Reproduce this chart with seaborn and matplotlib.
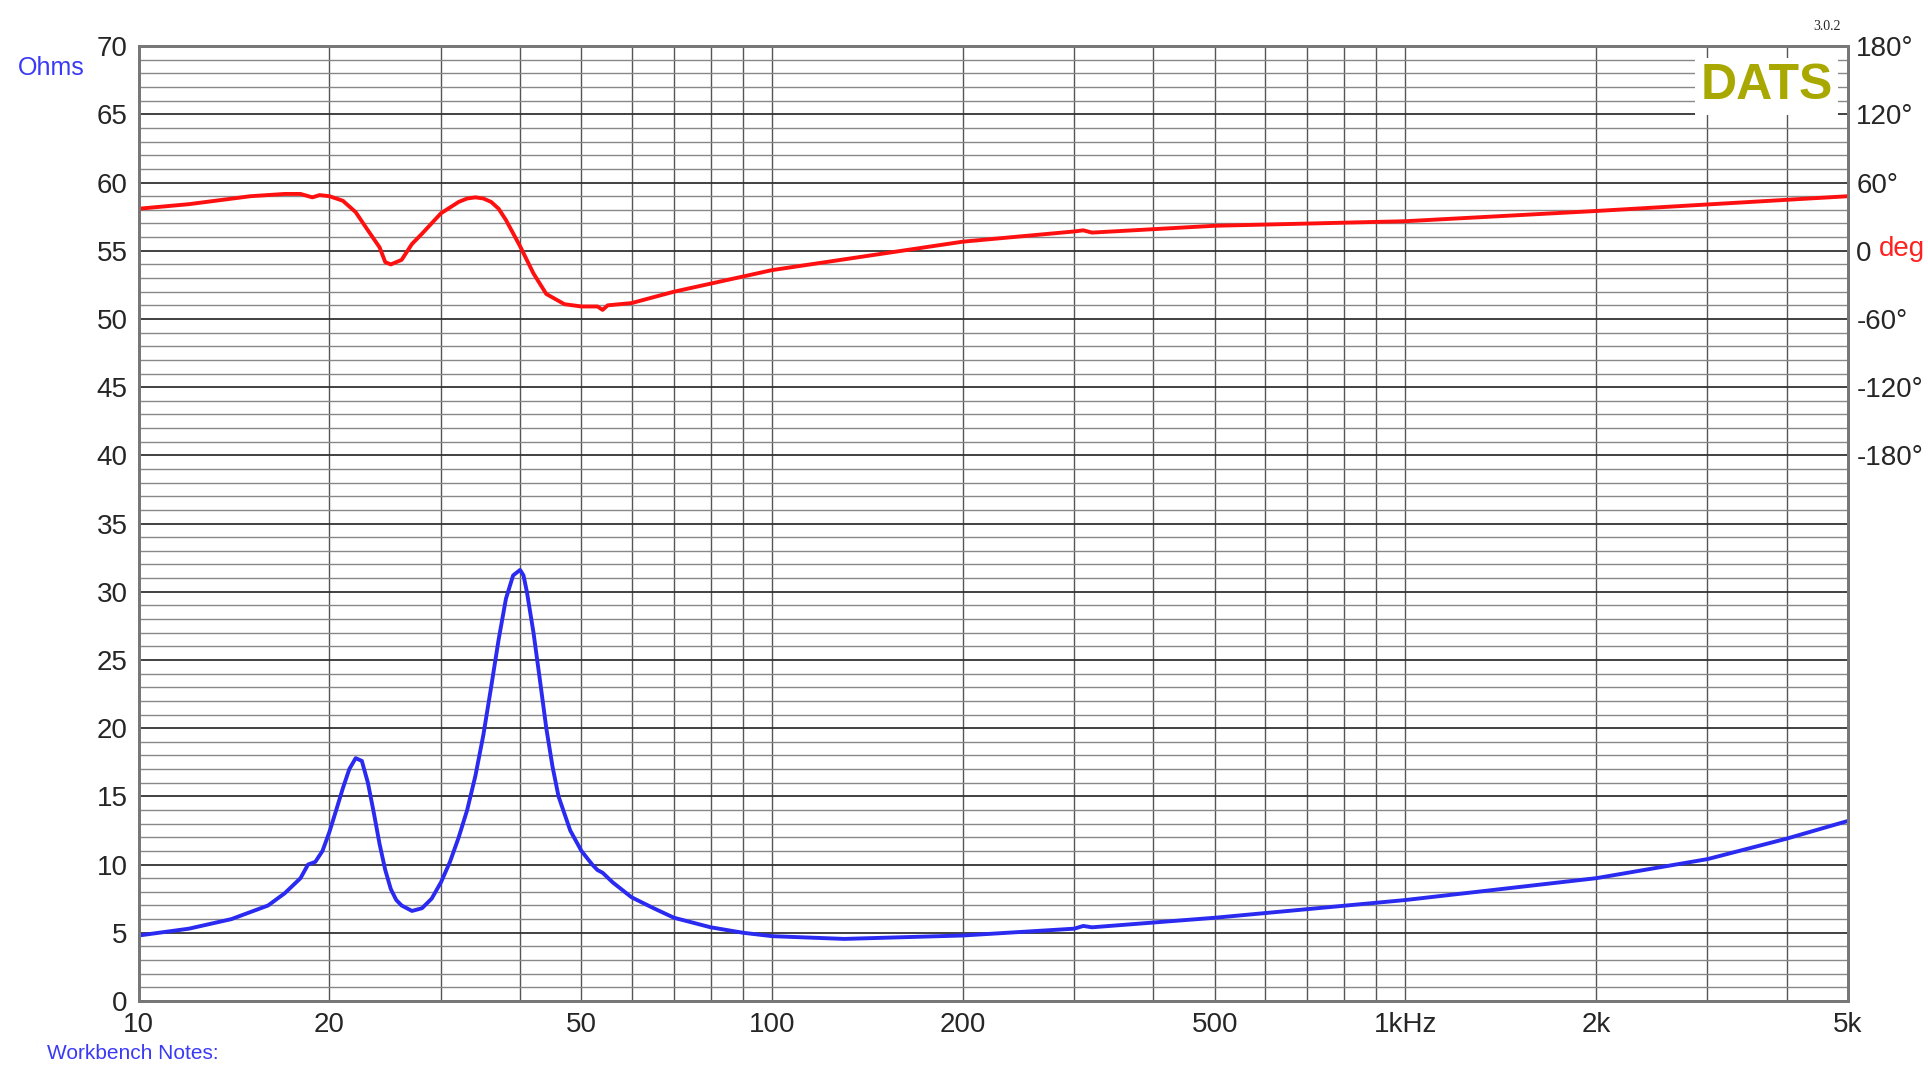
import numpy as np
import pandas as pd
import matplotlib
matplotlib.use("Agg")
import matplotlib.pyplot as plt
import seaborn as sns
from matplotlib.ticker import FixedLocator, NullFormatter

sns.set_style("white")
plt.rcParams['font.family'] = ['Liberation Sans', 'DejaVu Sans']

freq_z = [10, 12, 14, 16, 17, 18, 18.5, 19, 19.5, 20, 20.5, 21, 21.5, 22, 22.5, 23, 23.5, 24, 24.5, 25, 25.5, 26, 27, 28, 29, 30, 31, 32, 33, 34, 35, 36, 37, 38, 39, 40, 40.5, 41, 42, 43, 44, 45, 46, 48, 50, 52, 53, 54, 56, 60, 65, 70, 80, 90, 100, 130, 200, 300, 310, 320, 500, 1000, 2000, 3000, 4000, 5000]
ohms = [4.8, 5.3, 6.0, 7.0, 7.9, 9.0, 10.0, 10.2, 11.0, 12.4, 14.0, 15.6, 17.0, 17.8, 17.6, 16.0, 13.8, 11.5, 9.6, 8.2, 7.4, 7.0, 6.6, 6.8, 7.5, 8.7, 10.2, 12.0, 14.0, 16.5, 19.5, 23.0, 26.5, 29.5, 31.2, 31.6, 31.2, 30.0, 27.0, 23.5, 20.0, 17.2, 15.0, 12.5, 11.0, 10.0, 9.6, 9.4, 8.7, 7.6, 6.8, 6.1, 5.4, 5.0, 4.75, 4.55, 4.8, 5.3, 5.5, 5.4, 6.1, 7.4, 9.0, 10.4, 11.9, 13.2]
freq_p = [10, 12, 15, 17, 18, 18.8, 19.3, 20, 21, 22, 23, 24, 24.5, 25, 26, 27, 28, 30, 32, 33, 34, 35, 36, 37, 38, 40, 42, 44, 47, 50, 53, 54, 55, 60, 70, 100, 200, 300, 310, 320, 500, 1000, 2000, 5000]
phase = [37, 41, 48, 50, 50, 47, 49, 48, 44, 34, 18, 3, -10, -12, -8, 6, 15, 33, 43, 46, 47, 46, 43, 37, 27, 4, -20, -38, -47, -49, -49, -52, -48, -46, -36, -17, 8, 17, 18, 16, 22, 26, 35, 48]

fig = plt.figure(figsize=(19.28, 10.74), dpi=100)
ax = fig.add_axes([0.072, 0.068, 0.8865, 0.889])
ax2 = ax.twinx()

dfz = pd.DataFrame({"f": freq_z, "z": ohms})
dfp = pd.DataFrame({"f": freq_p, "p": phase})
sns.lineplot(data=dfz, x="f", y="z", ax=ax, color="#2a2af0", lw=2.8)
sns.lineplot(data=dfp, x="f", y="p", ax=ax2, color="#ff1010", lw=2.8)

for a in (ax, ax2):
    a.set_xscale("log")
    a.set_xlim(10, 5000)
    a.set_xlabel(""); a.set_ylabel("")
ax.set_ylim(0, 70)
ax2.set_ylim(-660, 180)

ax.set_yticks(range(0, 71, 5))
ax.yaxis.set_minor_locator(FixedLocator(range(0, 71, 1)))
ax.grid(which="major", axis="y", color="#333333", lw=1.3)
ax.grid(which="minor", axis="y", color="#888888", lw=1.0)
xt = [10, 20, 50, 100, 200, 500, 1000, 2000, 5000]
ax.set_xticks(xt)
ax.set_xticklabels(["10", "20", "50", "100", "200", "500", "1kHz", "2k", "5k"])
minors = [m * d for d in (10, 100, 1000) for m in range(1, 10) if m * d <= 5000]
ax.xaxis.set_minor_locator(FixedLocator(minors))
ax.xaxis.set_minor_formatter(NullFormatter())
ax.grid(which="both", axis="x", color="#555555", lw=1.0)
ax.tick_params(which="both", length=0, labelsize=20, pad=8)

ax2.set_yticks([-180, -120, -60, 0, 60, 120, 180])
ax2.set_yticklabels(["-180°", "-120°", "-60°", "0", "60°", "120°", "180°"])
ax2.tick_params(length=0, labelsize=20, pad=6)
ax2.grid(False)
for a in (ax, ax2):
    for s in a.spines.values():
        s.set_color("#777777"); s.set_linewidth(2)

fig.text(0.0095, 0.937, "Ohms", color="#3a3af5", fontsize=18, va="center")
fig.text(0.9745, 0.7685, "deg", color="#ff2020", fontsize=20, va="center")
fig.text(0.0245, 0.019, "Workbench Notes:", color="#3a3af5", fontsize=15, va="center")
fig.text(0.955, 0.972, "3.0.2", fontsize=10, family="Liberation Serif", ha="right")
ax.text(0.991, 0.982, "DATS", transform=ax.transAxes, ha="right", va="top",
        fontsize=36, fontweight="bold", color="#a8a800", zorder=5,
        bbox=dict(facecolor="white", edgecolor="none", pad=4))

fig.savefig("out.png", dpi=100)
